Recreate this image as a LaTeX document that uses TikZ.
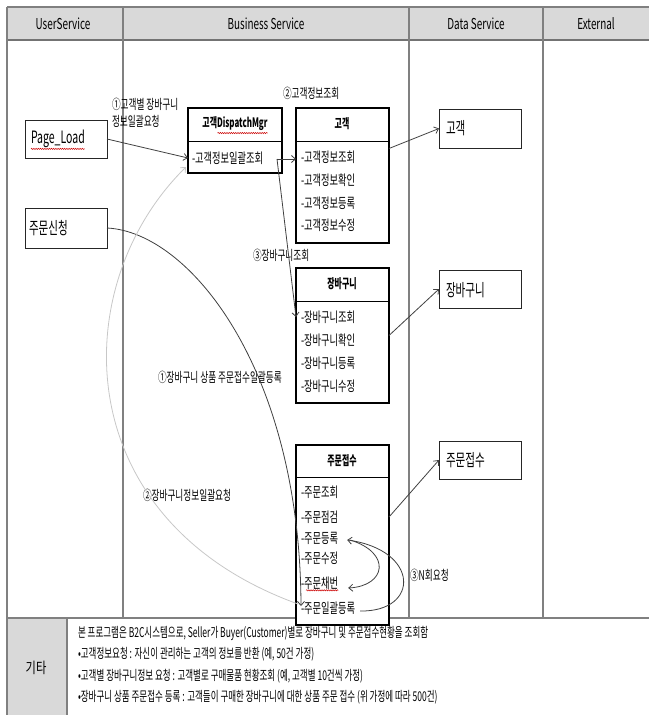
\documentclass[tikz,border=0pt]{standalone}
\usepackage{fontspec}
\setmainfont[FakeStretch=0.66]{Noto Sans CJK KR}
\newfontfamily\fhdr[FakeStretch=0.66]{Noto Sans CJK KR}
\newfontfamily\fttl[FakeStretch=0.61]{Noto Sans CJK KR}
\newfontfamily\flbl[FakeStretch=0.64]{Noto Sans CJK KR}
\newfontfamily\fbig[FakeStretch=0.62]{Noto Sans CJK KR}
\newfontfamily\fnote[FakeStretch=0.63]{Noto Sans CJK KR}
\newfontfamily\fetc[FakeStretch=0.75]{Noto Sans CJK KR}
\usetikzlibrary{arrows.meta,calc,decorations.pathmorphing}
\begin{document}
\begin{tikzpicture}[x=1pt,y=-1pt,
  every node/.style={inner sep=0pt, outer sep=0pt},
  gridline/.style={draw=black!50, line width=1.5pt},
  hdr/.style={font=\fhdr\fontsize{15}{16}\selectfont, anchor=center},
  classbox/.style={draw=black, fill=white, line width=2.6pt, anchor=north west},
  uibox/.style={draw=black!85, line width=0.9pt, anchor=north west},
  item/.style={font=\fontsize{14}{15}\selectfont, anchor=west},
  ttl/.style={font=\fttl\bfseries\fontsize{13}{14}\selectfont, anchor=center},
  lbl/.style={font=\flbl\fontsize{13.5}{14}\selectfont, anchor=west},
  note/.style={font=\fnote\fontsize{13.5}{14}\selectfont, anchor=west},
  big/.style={font=\fbig\fontsize{17}{18}\selectfont, anchor=west},
  divider/.style={draw=black, line width=0.7pt},
  arr/.style={draw=black!75, line width=0.8pt, -{Straight Barb[length=4pt,width=7pt]}},
  garr/.style={draw=black!22, line width=0.8pt, -{Straight Barb[length=4pt,width=7pt]}},
  wavy/.style={draw=red!80!black, line width=0.5pt, decorate, decoration={snake, amplitude=0.6pt, segment length=2.2pt}},
]
\useasboundingbox (0,0) rectangle (649,715);
% table
\fill[black!15] (7,7) rectangle (649,40);
\fill[black!15] (7,618) rectangle (67,715);
\draw[gridline] (7,7) -- (649,7);
\draw[draw=black!55, line width=2pt] (7,40) -- (649,40);
\draw[gridline] (7,7) -- (7,715);
\draw[gridline] (123,7) -- (123,618);
\draw[gridline] (409,7) -- (409,618);
\draw[gridline] (543,7) -- (543,618);
\draw[gridline] (7,618) -- (649,618);
\draw[gridline] (67,618) -- (67,715);
\node[hdr] (h1) at (63,24) {UserService};
\node[hdr] (h2) at (266,24) {Business Service};
\node[hdr] (h3) at (476,24) {Data Service};
\node[hdr] (h4) at (596,24) {External};

% user service boxes
\node[uibox, minimum width=82pt, minimum height=38pt] (pl) at (25,120) {};
\node[big] (plt) at (31,139) {Page\_Load};
\draw[wavy] ($(plt.south west)+(0,1)$) -- ($(plt.south east)+(0,1)$);
\node[uibox, minimum width=82pt, minimum height=40pt] (js) at (25,208) {};
\node[big] (jst) at (29,228) {주문신청};

% dispatch mgr
\node[classbox, minimum width=94pt, minimum height=65pt] (dm) at (188,108) {};
\draw[divider] (dm.west |- 0,141) -- (dm.east |- 0,141);
\node[ttl] (dmt) at (235,124) {고객DispatchMgr};
\draw[wavy] ($(dmt.south west)+(15,2)$) -- ($(dmt.south east)+(0,2)$);
\node[item] (dm1) at (192,158) {-고객정보일괄조회};

% 고객
\node[classbox, minimum width=93pt, minimum height=135pt] (c) at (296,108) {};
\draw[divider] (c.west |- 0,141) -- (c.east |- 0,141);
\node[ttl] (ct) at (342,124) {고객};
\node[item] (c1) at (301,157) {-고객정보조회};
\node[item] (c2) at (301,180) {-고객정보확인};
\node[item] (c3) at (301,203) {-고객정보등록};
\node[item] (c4) at (301,225) {-고객정보수정};

% 장바구니
\node[classbox, minimum width=93pt, minimum height=135pt] (b) at (296,268) {};
\draw[divider] (b.west |- 0,301) -- (b.east |- 0,301);
\node[ttl] (bt) at (342,284) {장바구니};
\node[item] (b1) at (301,317) {-장바구니조회};
\node[item] (b2) at (301,340) {-장바구니확인};
\node[item] (b3) at (301,363) {-장바구니등록};
\node[item] (b4) at (301,386) {-장바구니수정};

% 주문접수
\node[classbox, minimum width=93pt, minimum height=180pt] (o) at (296,445) {};
\draw[divider] (o.west |- 0,477) -- (o.east |- 0,477);
\node[ttl] (ot) at (342,461) {주문접수};
\node[item] (o1) at (301,492) {-주문조회};
\node[item] (o2) at (301,517) {-주문점검};
\node[item] (o3) at (301,538) {-주문등록};
\node[item] (o4) at (301,558) {-주문수정};
\node[item] (o5) at (301,583) {-주문채번};
\draw[wavy] ($(o5.south west)+(5,1)$) -- ($(o5.south east)+(0,1)$);
\node[item] (o6) at (301,608) {-주문일괄등록};

% external data boxes
\node[uibox, minimum width=82pt, minimum height=39pt] (e1) at (439,109) {};
\node[big] (e1t) at (446,128) {고객};
\node[uibox, minimum width=82pt, minimum height=38pt] (e2) at (439,270) {};
\node[big] (e2t) at (446,290) {장바구니};
\node[uibox, minimum width=82pt, minimum height=38pt] (e3) at (439,441) {};
\node[big] (e3t) at (446,460) {주문접수};

% labels
\node[lbl] (l1a) at (112,104) {①고객별 장바구니};
\node[lbl] (l1b) at (112,121) {정보일괄요청};
\node[lbl] (l2) at (283,93) {②고객정보조회};
\node[lbl] (l3) at (253,255) {③장바구니조회};
\node[lbl] (l4) at (158,377) {①장바구니 상품 주문접수일괄등록};
\node[lbl] (l5) at (143,495) {②장바구니정보일괄요청};
\node[lbl] (l6) at (410,575) {③N회요청};

% connectors
\coordinate (dmo) at (277,159);
\draw[arr] (pl.east) -- (dm.west |- dm1.west);
\draw[arr] (dmo) -- (c.west |- dmo);
\draw[arr] (dmo) -- (b.west |- b1.west);
\draw[arr] ($(c.north east)!0.3!(c.south east)$) -- (e1.west);
\draw[arr] (b.east) -- (e2.west);
\draw[arr] ($(o.north east)!0.4!(o.south east)$) -- (e3.west);
\coordinate (oin) at ($(o.west |- o6.west)+(5,-2)$);
\draw[arr] (js.east) .. controls (190,232) and (300,370) .. (oin);
\coordinate (gst) at ($(o.west |- o6.west)+(2,-4)$);
\draw[garr] (gst) .. controls (66,520) and (66,285) .. ($(dm.south west)+(-2,-6)$);
\draw[arr] ($(o6.east)+(5,3)$) .. controls (420,612) and (420,550) .. ($(o3.east)+(9,2)$);
\draw[arr] ($(o3.east)+(12,2)$) .. controls (392,553) and (386,586) .. ($(o5.east)+(10,5)$);

% bottom notes
\node[font=\fetc\fontsize{15}{16}\selectfont] (gt) at (36,668) {기타};
\node[note] (n1) at (78,633) {본 프로그램은 B2C시스템으로, Seller가 Buyer(Customer)별로 장바구니 및 주문접수현황을 조회함};
\node[note] (n2) at (78,654) {•고객정보요청 : 자신이 관리하는 고객의 정보를 반환 (예, 50건 가정)};
\node[note] (n3) at (78,676) {•고객별 장바구니정보 요청 : 고객별로 구매물품 현황조회 (예, 고객별 10건씩 가정)};
\node[note] (n4) at (78,697) {•장바구니 상품 주문접수 등록 : 고객들이 구매한 장바구니에 대한 상품 주문 접수 (위 가정에 따라 500건)};
\end{tikzpicture}
\end{document}
